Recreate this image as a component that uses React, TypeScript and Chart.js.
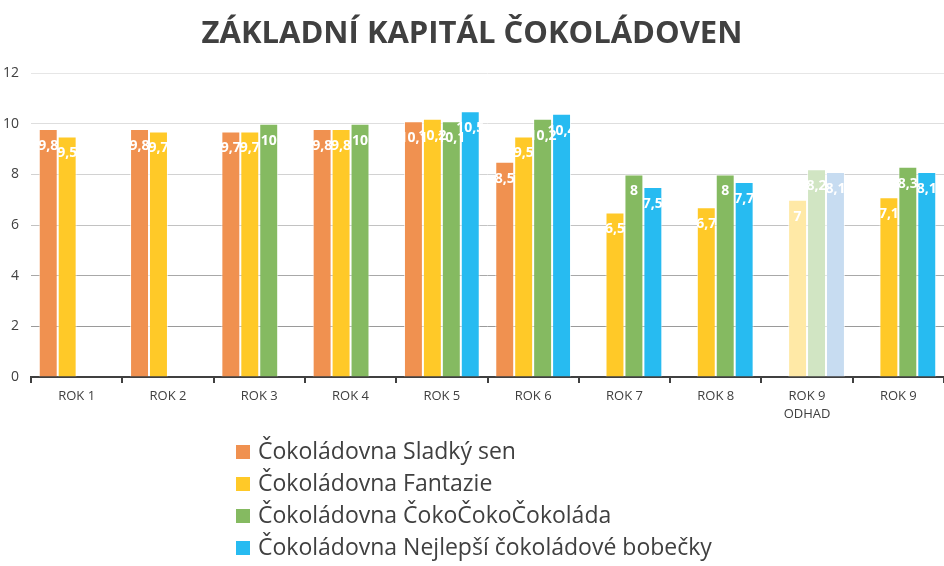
import React, { useEffect, useRef } from "react";
import { Chart, registerables } from "chart.js";

Chart.register(...registerables);

const categories: (string | string[])[] = [
  "ROK 1", "ROK 2", "ROK 3", "ROK 4", "ROK 5", "ROK 6", "ROK 7", "ROK 8", ["ROK 9", "ODHAD"], "ROK 9",
];
const isEstimate = [false, false, false, false, false, false, false, false, true, false];

const seriesNames = [
  "Čokoládovna Sladký sen",
  "Čokoládovna Fantazie",
  "Čokoládovna ČokoČokoČokoláda",
  "Čokoládovna Nejlepší čokoládové bobečky",
];
const sladkySen = [9.8, 9.8, 9.7, 9.8, 10.1, 8.5, null, null, null, null];
const fantazie = [9.5, 9.7, 9.7, 9.8, 10.2, 9.5, 6.5, 6.7, 7, 7.1];
const cokoCoko = [null, null, 10, 10, 10.1, 10.2, 8, 8, 8.2, 8.3];
const nejlepsi = [null, null, null, null, 10.5, 10.4, 7.5, 7.7, 8.1, 8.1];

const yTicks = [0, 2, 4, 6, 8, 10, 12];

const mainColors = ["#F09150", "#FFC928", "#85BA61", "#27BBF1"];
const lightColors = ["#F9CFB0", "#FFE9A6", "#D1E5C3", "#C7DCF1"];

const FONT = "'Open Sans', 'DejaVu Sans', sans-serif";

const dataLabelPlugin = {
  id: "dataLabels",
  afterDatasetsDraw(chart: any) {
    const ctx = chart.ctx;
    ctx.save();
    ctx.fillStyle = "#FFFFFF";
    ctx.font = `bold 14px ${FONT}`;
    ctx.textAlign = "center";
    ctx.textBaseline = "middle";
    chart.data.datasets.forEach((ds: any, di: number) => {
      const meta = chart.getDatasetMeta(di);
      meta.data.forEach((el: any, i: number) => {
        const v = ds.data[i];
        if (v === null || v === undefined) return;
        const txt = String(v).replace(".", ",");
        ctx.fillText(txt, el.x, el.y + 17);
      });
    });
    ctx.restore();
  },
};

const customLegendPlugin = {
  id: "customLegend",
  afterDraw(chart: any) {
    const ctx = chart.ctx;
    ctx.save();
    ctx.font = `23px ${FONT}`;
    ctx.textAlign = "left";
    ctx.textBaseline = "middle";
    chart.data.datasets.forEach((ds: any, di: number) => {
      const cy = 452 + di * 32;
      ctx.fillStyle = mainColors[di];
      ctx.fillRect(236, cy - 7, 14, 14);
      ctx.fillStyle = "#404040";
      ctx.fillText(ds.label, 258, cy);
    });
    ctx.restore();
  },
};

const gridColorFor = (v: number) => {
  const map: Record<number, string> = {
    0: "#404040", 2: "#9a9a9a", 4: "#a8a8a8", 6: "#c2c2c2", 8: "#d2d2d2", 10: "#dedede", 12: "#e6e6e6",
  };
  return map[v] || "#d9d9d9";
};

export default function App() {
  const ref = useRef<HTMLCanvasElement>(null);
  useEffect(() => {
    if (!ref.current) return;
    const all = [sladkySen, fantazie, cokoCoko, nejlepsi];
    const chart = new Chart(ref.current, {
      type: "bar",
      data: {
        labels: categories,
        datasets: all.map((d, di) => ({
          label: seriesNames[di],
          data: d,
          backgroundColor: categories.map((_, i) => (isEstimate[i] ? lightColors[di] : mainColors[di])),
          borderColor: "rgba(255,255,255,0.7)",
          borderWidth: 1,
          categoryPercentage: 0.83,
          barPercentage: 1.0,
        })),
      },
      options: {
        responsive: false,
        animation: false,
        layout: { padding: { left: 0, right: 0, top: 0, bottom: 138 } },
        plugins: {
          legend: { display: false },
          tooltip: { enabled: false },
          title: {
            display: true,
            text: "ZÁKLADNÍ KAPITÁL ČOKOLÁDOVEN",
            color: "#404040",
            font: { family: FONT, size: 31, weight: "bold", lineHeight: 1.2 },
            padding: { top: 16, bottom: 20 },
          },
        },
        scales: {
          x: {
            grid: {
              drawOnChartArea: false,
              drawTicks: true,
              tickLength: 6,
              color: "#404040",
              lineWidth: 2,
            },
            border: { display: true, color: "#404040", width: 2 },
            ticks: {
              color: "#404040",
              padding: 5,
              maxRotation: 0,
              autoSkip: false,
              font: { family: FONT, size: 13, lineHeight: 1.35 },
            },
          },
          y: {
            min: 0,
            max: 12,
            afterBuildTicks: (scale: any) => {
              scale.ticks = yTicks.map((v) => ({ value: v }));
            },
            afterFit: (scale: any) => {
              scale.width = 31;
            },
            grid: {
              drawTicks: false,
              color: (c: any) => gridColorFor(c.tick ? c.tick.value : -1),
              lineWidth: 1,
            },
            border: { display: false },
            ticks: {
              color: "#404040",
              padding: 12,
              font: { family: FONT, size: 14 },
            },
          },
        },
      },
      plugins: [dataLabelPlugin, customLegendPlugin],
    } as any);
    return () => chart.destroy();
  }, []);
  return (
    <div style={{ position: "fixed", left: 0, top: 0, width: 944, height: 566, background: "#fff" }}>
      <canvas ref={ref} width={944} height={566} style={{ display: "block" }} />
    </div>
  );
}
